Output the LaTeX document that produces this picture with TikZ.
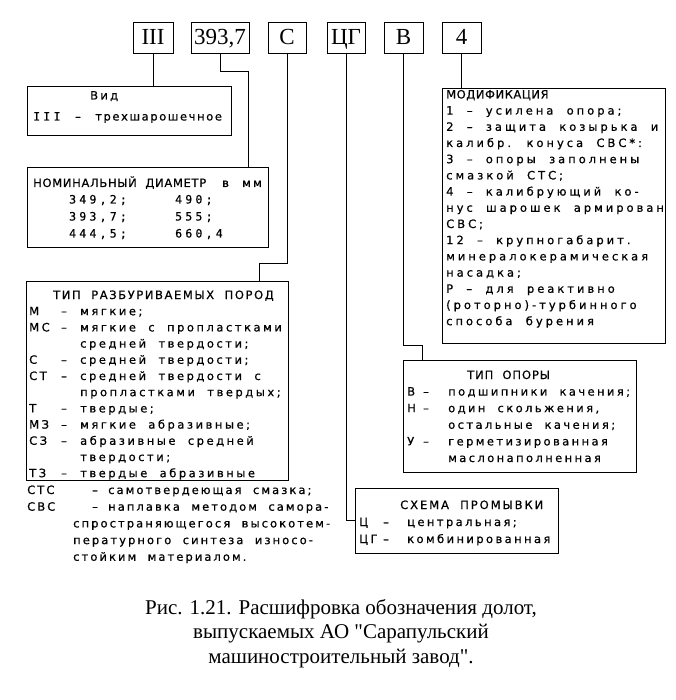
\documentclass[tikz,border=0pt]{standalone}
\usepackage{fontspec}
\setmainfont{Liberation Serif}[Ligatures=TeXOff]
\newcommand\ft[1]{\fontspec{DejaVu Sans}[LetterSpace=#1,WordSpace=2,FakeBold=0.6]\fontsize{11.5}{16.2}\selectfont}
\newcommand\ftm[1]{\fontspec{DejaVu Sans Mono}[LetterSpace=#1,WordSpace=1.5,FakeBold=0.6]\fontsize{11.5}{16.2}\selectfont}
\newcommand\cd[2]{\makebox[#1][l]{#2}}
\begin{document}
\begin{tikzpicture}[x=1pt,y=-1pt,
  box/.style={draw,line width=0.8pt,inner sep=0pt,rectangle},
  codebox/.style={box,minimum height=31pt,text height=15pt,text depth=0pt,font=\fontsize{23}{23}\selectfont},
  txt/.style={inner sep=0pt,anchor=base west},
  conn/.style={line width=0.8pt}]
\useasboundingbox (0,0) rectangle (675,700);
% top code boxes
\node[codebox,minimum width=40pt] (iii) at (153,37.5) {III};
\node[codebox,minimum width=58pt] (d37) at (220,37.5) {393,7};
\node[codebox,minimum width=38pt] (c) at (287,37.5) {С};
\node[codebox,minimum width=38pt] (cg) at (346,37.5) {ЦГ};
\node[codebox,minimum width=39pt] (b) at (403.5,37.5) {В};
\node[codebox,minimum width=39pt] (four) at (461.5,37.5) {4};
% frames
\node[box,minimum width=204pt,minimum height=49pt] (vid) at (129,110.5) {};
\node[box,minimum width=241pt,minimum height=80pt] (diam) at (147.5,207) {};
\node[box,minimum width=262pt,minimum height=199pt] (type) at (157,380.5) {};
\node[box,minimum width=223pt,minimum height=255pt] (mod) at (553.5,215.5) {};
\node[box,minimum width=233pt,minimum height=112pt] (supp) at (519.5,416) {};
\node[box,minimum width=203pt,minimum height=65pt] (flush) at (456.5,520.5) {};
% connectors
\coordinate (k1) at (248,71);
\coordinate (k2) at (259,263);
\coordinate (k3) at (422,345);
\draw[conn] (iii.south) -- (iii.south |- vid.north);
\draw[conn] (d37.south) |- (k1) -- (k1 |- diam.north);
\draw[conn] (c.south) |- (k2) -- (k2 |- type.north);
\draw[conn] (cg.south) |- (flush.west);
\draw[conn] (b.south) |- (k3) -- (k3 |- supp.north);
\draw[conn] (four.south) -- (four.south |- mod.north);
% texts
\node[txt] (vidh) at (90,99.5) {\ft{20}Вид};
\node[txt] (vidt) at (33,120.5) {\ft{14}\cd{42pt}{\ftm{28}III}\cd{20pt}{–}трехшарошечное};
\node[txt] (diamh) at (33,187) {\ft{6}\cd{189pt}{НОМИНАЛЬНЫЙ ДИАМЕТР}\cd{20pt}{\ft{20}в}\ft{20}мм};
\node[txt] (diamn) at (69,203.5) {\ftm{28}\fontsize{11.5}{17}\selectfont\begin{tabular}[t]{@{}l@{}}
\cd{106pt}{349,2;}490;\\
\cd{106pt}{393,7;}555;\\
\cd{106pt}{444,5;}660,4\end{tabular}};
\node[txt] (typh) at (53,299) {\ft{14}ТИП РАЗБУРИВАЕМЫХ ПОРОД};
\node[txt] (typb) at (29,315.2) {\ft{22}\begin{tabular}[t]{@{}l@{}}
\cd{32pt}{М}\cd{19pt}{–}мягкие;\\
\cd{32pt}{МС}\cd{19pt}{–}мягкие с пропластками\\
\hspace*{51pt}средней твердости;\\
\cd{32pt}{С}\cd{19pt}{–}средней твердости;\\
\cd{32pt}{СТ}\cd{19pt}{–}средней твердости с\\
\hspace*{51pt}пропластками твердых;\\
\cd{32pt}{Т}\cd{19pt}{–}твердые;\\
\cd{32pt}{МЗ}\cd{19pt}{–}мягкие абразивные;\\
\cd{32pt}{СЗ}\cd{19pt}{–}абразивные средней\\
\hspace*{51pt}твердости;\\
\cd{32pt}{ТЗ}\cd{19pt}{–}твердые абразивные\end{tabular}};
\node[txt] (foot) at (27,494) {\ft{18}\fontsize{11.5}{16.7}\selectfont\begin{tabular}[t]{@{}l@{}}
\cd{65pt}{СТС}\cd{16pt}{–}самотвердеющая смазка;\\
\cd{65pt}{СВС}\cd{16pt}{–}наплавка методом самора-\\
\hspace*{46pt}спространяющегося высокотем-\\
\hspace*{46pt}пературного синтеза износо-\\
\hspace*{46pt}стойким материалом.\end{tabular}};
\node[txt] (modh) at (446,98.5) {\ft{5}МОДИФИКАЦИЯ};
\node[txt] (modb) at (446,114.6) {\ft{26}\begin{tabular}[t]{@{}l@{}}
1 – усилена опора;\\
2 – защита козырька и\\
калибр. конуса СВС*:\\
3 – опоры заполнены\\
смазкой СТС;\\
4 – калибрующий ко-\\
нус шарошек армирован\\
СВС;\\
12 – крупногабарит.\\
минералокерамическая\\
насадка;\\
Р – для реактивно\\
(роторно)-турбинного\\
способа бурения\end{tabular}};
\node[txt] (supph) at (467,379) {\ft{8}ТИП ОПОРЫ};
\node[txt] (suppb) at (407,395.6) {\ft{21}\fontsize{11.5}{16.6}\selectfont\begin{tabular}[t]{@{}l@{}}
\cd{16pt}{В}\cd{25pt}{–}подшипники качения;\\
\cd{16pt}{Н}\cd{25pt}{–}один скольжения,\\
\hspace*{41pt}остальные качения;\\
\cd{16pt}{У}\cd{25pt}{–}герметизированная\\
\hspace*{41pt}маслонаполненная\end{tabular}};
\node[txt] (flushh) at (400,509) {\ft{17}СХЕМА ПРОМЫВКИ};
\node[txt] (flushb) at (359,526) {\ft{21}\fontsize{11.5}{17}\selectfont\begin{tabular}[t]{@{}l@{}}
\cd{24pt}{Ц}\cd{24pt}{–}центральная;\\
\cd{24pt}{ЦГ}\cd{24pt}{–}комбинированная\end{tabular}};
% caption
\node[inner sep=0pt,anchor=base] (cap) at (341,614) {\fontsize{21}{24.5}\selectfont\begin{tabular}[t]{@{}c@{}}
Рис. 1.21. Расшифровка обозначения долот,\\
выпускаемых АО "Сарапульский\\
машиностроительный завод".\end{tabular}};
\end{tikzpicture}
\end{document}
